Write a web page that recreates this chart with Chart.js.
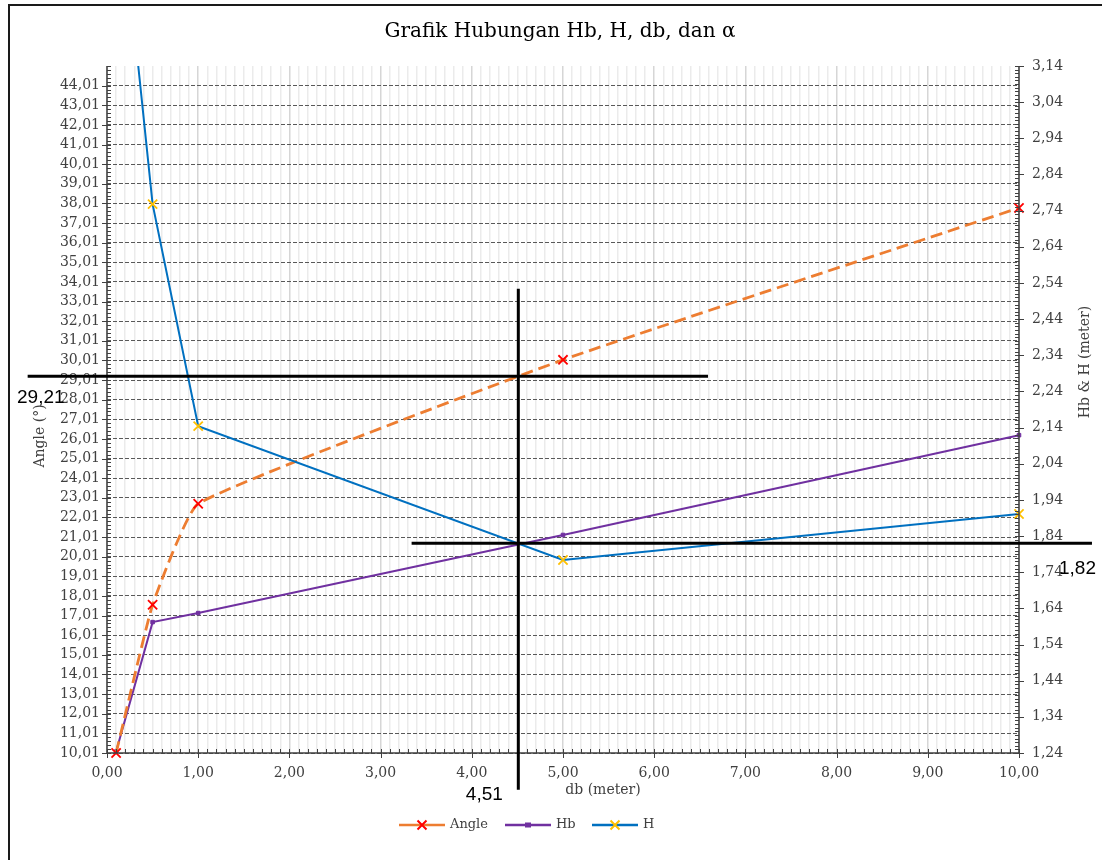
<!DOCTYPE html>
<html><head><meta charset="utf-8">
<script src="https://cdn.jsdelivr.net/npm/chart.js@4.4.1/dist/chart.umd.min.js"></script>
<style>html,body{margin:0;padding:0;background:#fff;} #wrap{width:1102px;height:860px;position:relative;}</style>
</head><body><div id="wrap"><canvas id="c" width="1102" height="860" style="width:1102px;height:860px"></canvas></div>
<script>
// ---- data ----
const dbValues = [0.1, 0.5, 1, 5, 10];
const angleValues = [10.01, 17.56, 22.71, 30.04, 37.78];
const hbValues = [1.244, 1.602, 1.627, 1.843, 2.119];
const hValues = [3.73, 2.758, 2.144, 1.774, 1.901];
const angleTicks = [10.01, 11.01, 12.01, 13.01, 14.01, 15.01, 16.01, 17.01, 18.01, 19.01, 20.01, 21.01, 22.01, 23.01, 24.01, 25.01, 26.01, 27.01, 28.01, 29.01, 30.01, 31.01, 32.01, 33.01, 34.01, 35.01, 36.01, 37.01, 38.01, 39.01, 40.01, 41.01, 42.01, 43.01, 44.01];
const heightTicks = [1.24, 1.34, 1.44, 1.54, 1.64, 1.74, 1.84, 1.94, 2.04, 2.14, 2.24, 2.34, 2.44, 2.54, 2.64, 2.74, 2.84, 2.94, 3.04, 3.14];
const seriesNames = ['Angle', 'Hb', 'H'];
const titleText = 'Grafik Hubungan Hb, H, db, dan α';
const xTitle = 'db (meter)';
const yLeftTitle = 'Angle (°)';
const yRightTitle = 'Hb & H (meter)';
const crossDb = 4.51, crossAngle = 29.21, crossHeight = 1.82;

const fmt = v => v.toFixed(2).replace('.', ',');
const SERIF = "'DejaVu Serif', 'Liberation Serif', serif";
const TXT = '#404040';

const toPts = ys => dbValues.map((x, i) => ({x, y: ys[i]}));

const decor = {
  id: 'decor',
  beforeDraw(chart) {
    const ctx = chart.ctx;
    ctx.save();
    ctx.strokeStyle = '#1a1a1a'; ctx.lineWidth = 2;
    ctx.beginPath(); ctx.moveTo(1102, 5); ctx.lineTo(9, 5); ctx.lineTo(9, 860); ctx.stroke();
    ctx.restore();
  },
  afterDraw(chart) {
    const ctx = chart.ctx;
    const a = chart.chartArea;
    const xs = chart.scales.x, yl = chart.scales.yL, yr = chart.scales.yR;
    ctx.save();
    ctx.strokeStyle = '#404040'; ctx.lineWidth = 1.5;
    ctx.beginPath();
    ctx.moveTo(a.left, a.top); ctx.lineTo(a.left, a.bottom); ctx.lineTo(a.right, a.bottom);
    ctx.moveTo(a.right, a.top); ctx.lineTo(a.right, a.bottom);
    ctx.stroke();
    ctx.lineWidth = 1;
    ctx.beginPath();
    for (let v = yl.min; v <= yl.max + 1e-9; v += 0.2) { const y = Math.round(yl.getPixelForValue(v)) + 0.5; ctx.moveTo(a.left, y); ctx.lineTo(a.left + 4, y); }
    angleTicks.forEach(v => { const y = Math.round(yl.getPixelForValue(v)) + 0.5; ctx.moveTo(a.left - 5, y); ctx.lineTo(a.left + 4, y); });
    for (let v = yr.min; v <= yr.max + 1e-9; v += 0.01) { const y = Math.round(yr.getPixelForValue(v)) + 0.5; ctx.moveTo(a.right - 4, y); ctx.lineTo(a.right, y); }
    heightTicks.forEach(v => { const y = Math.round(yr.getPixelForValue(v)) + 0.5; ctx.moveTo(a.right - 4, y); ctx.lineTo(a.right + 5, y); });
    for (let v = xs.min; v <= xs.max + 1e-9; v += 0.1) { const x = Math.round(xs.getPixelForValue(v)) + 0.5; ctx.moveTo(x, a.bottom - 4); ctx.lineTo(x, a.bottom); }
    for (let v = xs.min; v <= xs.max + 1e-9; v += 1) { const x = Math.round(xs.getPixelForValue(v)) + 0.5; ctx.moveTo(x, a.bottom - 4); ctx.lineTo(x, a.bottom + 5); }
    ctx.stroke();

    ctx.fillStyle = TXT; ctx.font = "14px " + SERIF; ctx.textAlign = 'center'; ctx.textBaseline = 'middle';
    ctx.fillText(xTitle, 603, 790);
    ctx.save(); ctx.translate(40, 436); ctx.rotate(-Math.PI / 2); ctx.fillText(yLeftTitle, 0, 0); ctx.restore();
    ctx.save(); ctx.translate(1085, 362); ctx.rotate(-Math.PI / 2); ctx.fillText(yRightTitle, 0, 0); ctx.restore();

    const legX = [399, 505, 592];
    const ly = 825;
    chart.data.datasets.forEach((ds, i) => {
      const x0 = legX[i];
      ctx.save();
      ctx.strokeStyle = ds.borderColor; ctx.lineWidth = 2.5;
      ctx.beginPath(); ctx.moveTo(x0, ly); ctx.lineTo(x0 + 46, ly); ctx.stroke();
      const cx = x0 + 23;
      if (ds.pointStyle === 'rect') {
        ctx.fillStyle = ds.pointBackgroundColor; ctx.fillRect(cx - 3, ly - 2.5, 6, 5);
      } else {
        ctx.strokeStyle = ds.pointBorderColor; ctx.lineWidth = 2;
        const r = 4.5;
        ctx.beginPath(); ctx.moveTo(cx - r, ly - r); ctx.lineTo(cx + r, ly + r); ctx.moveTo(cx + r, ly - r); ctx.lineTo(cx - r, ly + r); ctx.stroke();
      }
      ctx.restore();
      ctx.fillStyle = TXT; ctx.font = "13px " + SERIF; ctx.textAlign = 'left'; ctx.textBaseline = 'middle';
      ctx.fillText(ds.label, x0 + 51, ly);
    });

    ctx.strokeStyle = '#000'; ctx.lineWidth = 3;
    const yA = yl.getPixelForValue(crossAngle);
    const xV = xs.getPixelForValue(crossDb);
    const yH = yr.getPixelForValue(crossHeight);
    ctx.beginPath();
    ctx.moveTo(xs.getPixelForValue(-0.87), yA); ctx.lineTo(xs.getPixelForValue(6.59), yA);
    ctx.moveTo(xV, yl.getPixelForValue(33.66)); ctx.lineTo(xV, yl.getPixelForValue(8.14));
    ctx.moveTo(xs.getPixelForValue(3.34), yH); ctx.lineTo(xs.getPixelForValue(10.8), yH);
    ctx.stroke();
    ctx.fillStyle = '#000'; ctx.font = "19px 'Liberation Sans', Arial, sans-serif"; ctx.textBaseline = 'middle';
    ctx.textAlign = 'left';
    ctx.fillText(fmt(crossAngle), 17, yA + 22);
    ctx.fillText(fmt(crossHeight), 1059, yH + 25);
    ctx.textAlign = 'center';
    ctx.fillText(fmt(crossDb), xV - 34, 795);
    ctx.restore();
  }
};

new Chart(document.getElementById('c'), {
  type: 'line',
  data: {
    datasets: [
      { label: seriesNames[0], data: toPts(angleValues), yAxisID: 'yL', borderColor: '#ED7D31', borderWidth: 2.8, borderDash: [12, 6], tension: 0.12,
        clip: 8,
        pointStyle: 'crossRot', pointRadius: 6.5, pointBorderColor: '#FF0000', pointBackgroundColor: '#FF0000', pointBorderWidth: 1.8, order: 1 },
      { label: seriesNames[1], data: toPts(hbValues), yAxisID: 'yR', borderColor: '#7030A0', borderWidth: 2, tension: 0,
        clip: 8,
        pointStyle: 'rect', pointRadius: 2.5, pointBorderColor: '#7030A0', pointBackgroundColor: '#7030A0', pointBorderWidth: 1, order: 2 },
      { label: seriesNames[2], data: toPts(hValues), yAxisID: 'yR', borderColor: '#0070C0', borderWidth: 2, tension: 0,
        clip: { left: 8, top: 0, right: 8, bottom: 8 },
        pointStyle: 'crossRot', pointRadius: 6.5, pointBorderColor: '#FFC000', pointBackgroundColor: '#FFC000', pointBorderWidth: 1.8, order: 0 }
    ]
  },
  options: {
    responsive: false,
    animation: false,
    devicePixelRatio: 1,
    layout: { padding: { left: 18, right: 0, top: 0, bottom: 0 } },
    plugins: {
      legend: { display: false },
      tooltip: { enabled: false },
      title: { display: true, text: titleText, color: '#000', font: { family: SERIF, size: 20, weight: 'normal' }, padding: { top: 20, bottom: 22 } }
    },
    scales: {
      x: {
        type: 'linear', min: 0, max: 10,
        ticks: { stepSize: 0.1, autoSkip: false, maxRotation: 0, padding: 12, color: TXT, font: { family: SERIF, size: 14 },
          callback: v => Math.abs(v - Math.round(v)) < 1e-6 ? fmt(Math.round(v)) : '' },
        grid: { drawTicks: false, lineWidth: 1.5, color: c => (c.tick && Math.abs(c.tick.value - Math.round(c.tick.value)) < 1e-6) ? '#d6d6d6' : '#ebebeb' },
        border: { display: false },
        afterFit: s => { s.height = 107; }
      },
      yL: {
        type: 'linear', position: 'left', min: 10.01, max: 45.01,
        afterBuildTicks: s => { s.ticks = angleTicks.map(v => ({ value: v })); },
        ticks: { padding: 7, color: TXT, font: { family: SERIF, size: 14 }, callback: v => fmt(v) },
        grid: { drawTicks: false, color: '#595959', lineWidth: 1 },
        border: { display: false, dash: [4, 2] },
        afterFit: s => { s.width = 89; }
      },
      yR: {
        type: 'linear', position: 'right', min: 1.24, max: 3.14,
        afterBuildTicks: s => { s.ticks = heightTicks.map(v => ({ value: v })); },
        ticks: { padding: 13, color: TXT, font: { family: SERIF, size: 14 }, callback: v => fmt(v) },
        grid: { display: false, drawTicks: false },
        border: { display: false },
        afterFit: s => { s.width = 83; }
      }
    }
  },
  plugins: [decor]
});
</script>
</body></html>
